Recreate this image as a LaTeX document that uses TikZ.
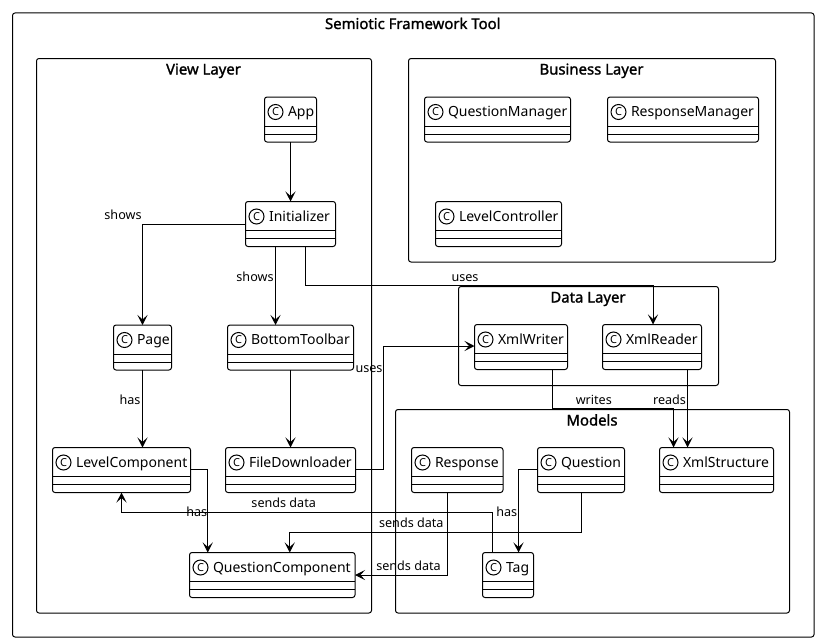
\documentclass[tikz,border=0pt]{standalone}
\usepackage{fontspec}
\setmainfont{Noto Sans}
\newfontfamily\titlefont{Noto Sans}[FakeBold=1.4]
\usetikzlibrary{arrows.meta}
\tikzset{
  box/.style={draw=black,line width=1pt,rounded corners=2.5pt,fill=white,inner sep=0,outer sep=0},
  frametitle/.style={font=\titlefont\fontsize{14.9}{16}\selectfont,inner sep=0,anchor=base},
  clsname/.style={font=\fontsize{14}{16}\selectfont,inner sep=0,anchor=base west},
  spot/.style={draw=black,line width=1pt,circle,minimum size=15pt,inner sep=0,fill=white,font=\fontsize{11}{11}\selectfont},
  conn/.style={line width=1pt,-{Stealth[length=10pt,width=10pt,inset=4.5pt]}},
  lbl/.style={font=\fontsize{12.6}{15}\selectfont,inner sep=0,anchor=base}
}
\newcommand{\frm}[6]{%
  \node[box,minimum width={#5-#3},minimum height={#6-#4}] (#1) at ({(#3+#5)/2},{(#4+#6)/2}) {};
  \node[frametitle] (#1title) at ({(#3+#5)/2-0.5},{#4+16}) {#2};
}
\newcommand{\cls}[6]{%
  \node[box,minimum width={#5-#3},minimum height={#6-#4}] (#1) at ({(#3+#5)/2},{(#4+#6)/2}) {};
  \node[spot] (#1spot) at ({#3+11},{#4+15}) {C};
  \node[clsname] (#1name) at ({#3+23.3},{#4+19.5}) {#2};
  \draw[line width=1pt] ([yshift=-29pt]#1.north west) -- ([yshift=-29pt]#1.north east);
  \draw[line width=1pt] ([yshift=-37pt]#1.north west) -- ([yshift=-37pt]#1.north east);
}
\begin{document}
\begin{tikzpicture}[x=1pt,y=-1pt]
\useasboundingbox (0,0) rectangle (818,642);
\fill[white] (0,0) rectangle (818,642);
\frm{tool}{Semiotic Framework Tool}{12.5}{13}{814}{637}
\frm{view}{View Layer}{36.5}{58.5}{371.5}{613}
\frm{biz}{Business Layer}{408.5}{58.5}{775.5}{262}
\frm{data}{Data Layer}{458.5}{286.5}{718.5}{385.5}
\frm{models}{Models}{395.5}{409.5}{789.5}{613}
\cls{app}{App}{264.5}{97}{316.5}{142}
\cls{init}{Initializer}{245.5}{201.5}{335.5}{246.5}
\cls{page}{Page}{113.5}{325}{171.5}{370}
\cls{bar}{BottomToolbar}{227.5}{325}{353.5}{370}
\cls{lvl}{LevelComponent}{52.5}{447.5}{190.5}{492.5}
\cls{file}{FileDownloader}{225.5}{447.5}{355.5}{492.5}
\cls{qcomp}{QuestionComponent}{189.5}{552.5}{355}{597.5}
\cls{qm}{QuestionManager}{424.5}{97}{570.5}{142}
\cls{rm}{ResponseManager}{607.5}{97}{758.5}{142}
\cls{lc}{LevelController}{435.5}{201.5}{561.5}{246.5}
\cls{xw}{XmlWriter}{474.5}{324.5}{567.5}{369.5}
\cls{xr}{XmlReader}{602.5}{324.5}{701.5}{369.5}
\cls{resp}{Response}{411.5}{447.5}{503}{492.5}
\cls{ques}{Question}{537.5}{447.5}{624.5}{492.5}
\cls{xs}{XmlStructure}{659.5}{447.5}{773.5}{492.5}
\cls{tag}{Tag}{482.5}{552.5}{533.5}{597.5}
\draw[conn] (app.south) -- (app.south |- init.north);
\draw[conn] (init.west) -| (page.north);
\draw[conn] ([xshift=-15pt]init.south) -- ([xshift=-15pt]init.south |- bar.north);
\draw[conn] ([xshift=15pt]init.south) -- ++(0,39.2) -| ([xshift=1pt]xr.north);
\draw[conn] (bar.south) -- (bar.south |- file.north);
\draw[conn] (page.south) -- (page.south |- lvl.north);
\draw[conn] ([yshift=0.5pt]file.east) -- ++(28,0) |- ([yshift=1pt]xw.west);
\draw[conn] ([yshift=0.5pt]lvl.east) -| ([xshift=-64.5pt]qcomp.north);
\draw[conn] ([xshift=-15.5pt]tag.north) -- ++(0,-40.2) -| (lvl.south);
\draw[conn] (ques.south) -- ++(0,39.8) -| ([xshift=17.5pt]qcomp.north);
\draw[conn] ([xshift=-10pt]resp.south) |- (qcomp.east);
\draw[conn] ([yshift=0.5pt]ques.west) -| ([xshift=10.5pt]tag.north);
\draw[conn] ([xshift=31.5pt]xw.south) -- ++(0,39) -| ([xshift=-43pt]xs.north);
\draw[conn] ([xshift=35.5pt]xr.south) -- ([xshift=-29pt]xs.north);
\node[lbl] (l1) at (123,219) {shows};
\node[lbl] (l2) at (255,281) {shows};
\node[lbl] (l3) at (465,281) {uses};
\node[lbl] (l4) at (130,404) {has};
\node[lbl] (l5) at (369,372) {uses};
\node[lbl] (l6) at (196.7,516.7) {has};
\node[lbl] (l7) at (283.7,507.7) {sends data};
\node[lbl] (l8) at (411.3,527.7) {sends data};
\node[lbl] (l9) at (408.5,570) {sends data};
\node[lbl] (l10) at (506.7,516.5) {has};
\node[lbl] (l11) at (593.8,404) {writes};
\node[lbl] (l12) at (669.5,404) {reads};
\end{tikzpicture}
\end{document}
